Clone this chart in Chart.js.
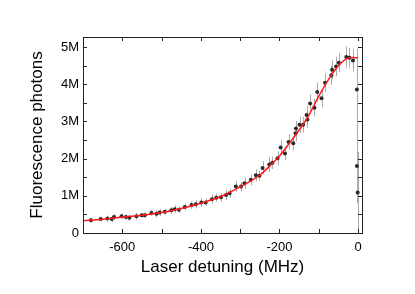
<!DOCTYPE html>
<html>
<head>
<meta charset="utf-8">
<script src="https://cdn.jsdelivr.net/npm/chart.js@4"></script>
<style>
  html, body { margin: 0; padding: 0; background: #fff; }
</style>
</head>
<body>
<canvas id="chart" width="415" height="294"></canvas>
<script>
// measured points (detuning in MHz, photons in millions)
const detuning = [-680, -655, -638, -627, -621, -602, -591, -582, -564, -551, -543, -526, -513, -505,
  -492, -475, -467, -456, -441, -424, -413, -399, -388, -372, -361, -349, -336, -327, -311, -298,
  -289, -273, -260, -251, -243, -226, -218, -205, -197, -186, -177, -165, -159, -158, -149, -140,
  -131, -129, -122, -111, -104, -93, -84, -68, -66, -56, -49, -30, -22, -13, -3, -3, -1];
const photons = [0.34, 0.375, 0.39, 0.375, 0.43, 0.45, 0.43, 0.41, 0.45, 0.48, 0.48, 0.54, 0.52, 0.55,
  0.57, 0.61, 0.64, 0.625, 0.70, 0.75, 0.77, 0.82, 0.82, 0.91, 0.95, 0.96, 1.02, 1.07, 1.25, 1.25,
  1.34, 1.43, 1.55, 1.54, 1.75, 1.84, 1.89, 2.01, 2.30, 2.14, 2.45, 2.41, 2.68, 2.81, 2.91, 2.91,
  3.17, 3.05, 3.48, 3.37, 3.79, 3.62, 4.04, 4.24, 4.39, 4.48, 4.58, 4.73, 4.71, 4.64, 3.86, 1.80, 1.09];
const photonErr = [0.06, 0.06, 0.08, 0.09, 0.08, 0.08, 0.07, 0.08, 0.09, 0.07, 0.08, 0.08, 0.10, 0.09,
  0.08, 0.09, 0.10, 0.09, 0.10, 0.10, 0.11, 0.12, 0.10, 0.12, 0.11, 0.12, 0.13, 0.12, 0.14, 0.13,
  0.15, 0.15, 0.16, 0.14, 0.18, 0.20, 0.17, 0.18, 0.20, 0.18, 0.20, 0.19, 0.22, 0.20, 0.22, 0.21,
  0.24, 0.22, 0.25, 0.23, 0.26, 0.24, 0.25, 0.26, 0.25, 0.26, 0.25, 0.28, 0.27, 0.30, 1.10, 1.00, 1.09];

// fitted curve
const fitDetuning = [-700, -650, -600, -550, -500, -450, -400, -350, -300, -275, -250, -225, -200,
  -175, -150, -125, -100, -75, -50, -30, -15, 0];
const fitPhotons = [0.33, 0.37, 0.43, 0.48, 0.55, 0.66, 0.80, 0.98, 1.24, 1.39, 1.56, 1.80, 2.07,
  2.41, 2.77, 3.17, 3.68, 4.13, 4.50, 4.68, 4.72, 4.71];

const xTicks = [-700, -600, -500, -400, -300, -200, -100, 0];
const yTicks = [0, 0.5, 1, 1.5, 2, 2.5, 3, 3.5, 4, 4.5, 5];

const errorBars = {
  id: "errorBars",
  beforeDatasetsDraw(chart) {
    const { ctx, scales: { x, y } } = chart;
    ctx.save();
    ctx.strokeStyle = "rgba(150,150,150,0.8)";
    ctx.lineWidth = 1;
    detuning.forEach((d, i) => {
      const px = Math.round(x.getPixelForValue(d)) + 0.5;
      ctx.beginPath();
      ctx.moveTo(px, y.getPixelForValue(photons[i] - photonErr[i]));
      ctx.lineTo(px, y.getPixelForValue(photons[i] + photonErr[i]));
      ctx.stroke();
    });
    ctx.restore();
  },
  afterDraw(chart) {
    const { ctx, chartArea: a, scales: { x, y } } = chart;
    ctx.save();
    ctx.strokeStyle = "#222";
    ctx.lineWidth = 1;
    ctx.strokeRect(a.left + 0.5, a.top + 0.5, a.right - a.left, a.bottom - a.top);
    ctx.beginPath();
    xTicks.forEach(v => {
      const px = Math.round(x.getPixelForValue(v)) + 0.5;
      ctx.moveTo(px, a.bottom); ctx.lineTo(px, a.bottom - 4);
      ctx.moveTo(px, a.top); ctx.lineTo(px, a.top + 4);
    });
    yTicks.forEach(v => {
      const py = Math.round(y.getPixelForValue(v)) + 0.5;
      ctx.moveTo(a.left, py); ctx.lineTo(a.left + 4, py);
      ctx.moveTo(a.right, py); ctx.lineTo(a.right - 4, py);
    });
    ctx.stroke();
    ctx.restore();
  }
};

new Chart(document.getElementById("chart"), {
  type: "scatter",
  data: {
    datasets: [
      {
        label: "Fit",
        type: "line",
        data: fitDetuning.map((d, i) => ({ x: d, y: fitPhotons[i] })),
        borderColor: "#ff1a1a",
        borderWidth: 1.5,
        pointRadius: 0,
        cubicInterpolationMode: "monotone",
        fill: false,
        order: 0,
      },
      {
        label: "Data",
        data: detuning.map((d, i) => ({ x: d, y: photons[i] })),
        backgroundColor: "#2a2a2a",
        borderColor: "#2a2a2a",
        pointRadius: 2,
        borderWidth: 0,
        order: 1,
      },
    ],
  },
  options: {
    responsive: false,
    animation: false,
    layout: { padding: { top: 37, right: 53, left: 0, bottom: 0 } },
    plugins: { legend: { display: false }, tooltip: { enabled: false } },
    scales: {
      x: {
        type: "linear",
        min: -700,
        max: 10,
        grid: { display: false, drawTicks: false },
        border: { display: false },
        afterFit: s => { s.height = 61; },
        afterBuildTicks: s => { s.ticks = xTicks.map(v => ({ value: v })); },
        ticks: {
          autoSkip: false,
          maxRotation: 0,
          padding: 7,
          color: "#000",
          font: { family: "Liberation Sans", size: 13 },
          callback: v => (v % 200 === 0 ? String(v) : ""),
        },
        title: {
          display: true,
          text: "Laser detuning (MHz)",
          color: "#000",
          font: { family: "Liberation Sans", size: 17 },
          padding: { top: 0, bottom: 16 },
        },
      },
      y: {
        min: 0,
        max: 5.27,
        grid: { display: false, drawTicks: false },
        border: { display: false },
        afterFit: s => { s.width = 83; },
        afterBuildTicks: s => { s.ticks = yTicks.map(v => ({ value: v })); },
        ticks: {
          autoSkip: false,
          padding: 4,
          color: "#000",
          font: { family: "Liberation Sans", size: 13 },
          callback: v => (v === 0 ? "0" : Number.isInteger(v) ? v + "M" : ""),
        },
        title: {
          display: true,
          text: "Fluorescence photons",
          color: "#000",
          font: { family: "Liberation Sans", size: 17 },
          padding: { top: 27, bottom: 0 },
        },
      },
    },
  },
  plugins: [errorBars],
});
</script>
</body>
</html>
